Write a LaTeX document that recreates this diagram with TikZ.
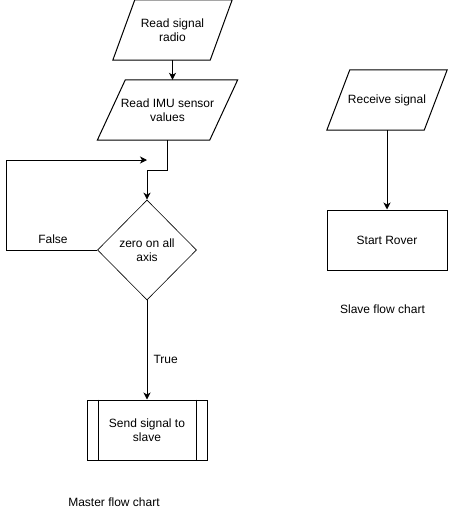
\documentclass[tikz,border=0pt]{standalone}
\usepackage{fontspec}
\setmainfont{Liberation Sans}
\usetikzlibrary{shapes.geometric}
\usetikzlibrary{arrows.meta}

\newcommand{\iobox}[2]{\draw[box line] ([xshift=#2]#1.north west) -- ([xshift=#2]#1.north east) -- ([xshift=-#2]#1.south east) -- ([xshift=-#2]#1.south west) -- cycle;}

\begin{document}
\begin{tikzpicture}[
    x=1pt, y=-1pt,
    every node/.style={font=\fontsize{12}{14.4}\selectfont, align=center, inner sep=0pt},
    box line/.style={line width=1pt},
    io node/.style={minimum height=60pt},
    rect node/.style={draw, box line, minimum width=120pt, minimum height=60pt},
    check node/.style={diamond, draw, line width=0.6pt, minimum width=99pt, minimum height=100pt},
    flow/.style={line width=1pt, -{Stealth[length=7pt,width=7pt,inset=2pt]}}
]
    \useasboundingbox (0,0) rectangle (448,514);

    \node[io node, minimum width=97pt] (radio) at (172.5,30) {Read signal\\radio};
    \node[io node, minimum width=112pt] (imu) at (167.5,110) {Read IMU sensor\\values};
    \node[check node] (check) at (147,250) {zero on all\\axis};
    \node[rect node] (send) at (147,430) {Send signal to\\slave};
    \node (master) at (114,502) {Master flow chart};
    \coordinate (back) at (147,160);

    \node[io node, minimum width=97pt] (recv) at (387,100) {Receive signal};
    \node[rect node] (rover) at (387,240) {Start Rover};
    \node (slave) at (382.5,309) {Slave flow chart};

    \iobox{radio}{11}
    \iobox{imu}{14}
    \iobox{recv}{11.5}
    \draw[box line] ([xshift=12]send.north west) -- ([xshift=12]send.south west);
    \draw[box line] ([xshift=-11]send.north east) -- ([xshift=-11]send.south east);

    \draw[flow] (radio.south) -- (radio.south |- imu.north);
    \draw[flow] (imu.south) -- ++(0,30) -| (check.north);
    \draw[flow] (check.west) -- ++(-91,0) |- (back);
    \node (false) at (53,239) {False};
    \draw[flow] (check.south) -- (send.north) node[pos=0.6, right=6pt] {True};
    \draw[flow] (recv.south) -- (rover.north);
\end{tikzpicture}
\end{document}
